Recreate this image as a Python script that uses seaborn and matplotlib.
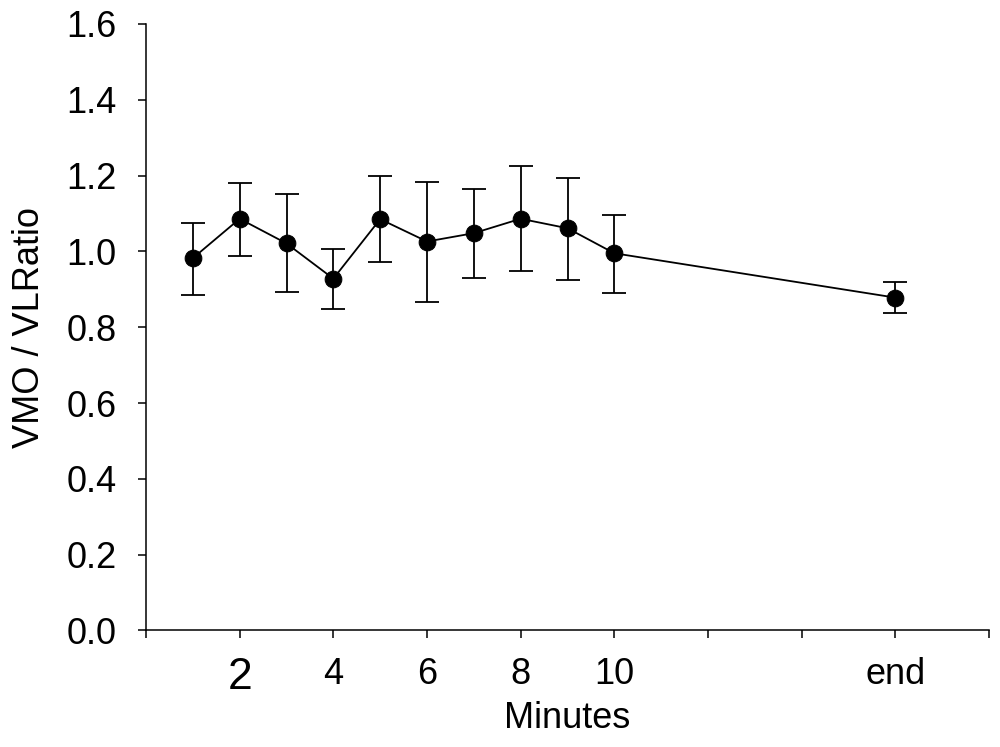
import numpy as np
import pandas as pd
import matplotlib
matplotlib.use("Agg")
import matplotlib.pyplot as plt
import seaborn as sns

# data
minute_pos = [1, 2, 3, 4, 5, 6, 7, 8, 9, 10, 16]   # "end" drawn at 16
ratio_mean = [0.982, 1.086, 1.021, 0.928, 1.085, 1.026, 1.048, 1.086, 1.061, 0.995, 0.878]
ratio_upper = [1.075, 1.181, 1.151, 1.005, 1.198, 1.182, 1.165, 1.224, 1.194, 1.096, 0.918]
ratio_lower = [0.886, 0.989, 0.892, 0.848, 0.971, 0.866, 0.930, 0.947, 0.924, 0.891, 0.837]

tick_pos = [0, 2, 4, 6, 8, 10, 12, 14, 16, 18]
tick_labels = ["", "2", "4", "6", "8", "10", "", "", "end", ""]

df = pd.DataFrame({"pos": minute_pos, "mean": ratio_mean,
                   "upper": ratio_upper, "lower": ratio_lower})

sns.set_style("ticks")
plt.rcParams["font.family"] = ["Liberation Sans", "DejaVu Sans"]
plt.rcParams["text.color"] = "black"
plt.rcParams["axes.labelcolor"] = "black"
plt.rcParams["xtick.color"] = "black"
plt.rcParams["ytick.color"] = "black"
plt.rcParams["axes.edgecolor"] = "black"

fig = plt.figure(figsize=(10, 7.47), dpi=100)
ax = fig.add_axes([0.146, 0.156, 0.843, 0.812])

# error bars
yerr = np.vstack([df["mean"] - df["lower"], df["upper"] - df["mean"]])
ax.errorbar(df["pos"], df["mean"], yerr=yerr, fmt="none", ecolor="black",
            elinewidth=1.3, capsize=8.5, capthick=1.3, zorder=2)

sns.lineplot(data=df, x="pos", y="mean", ax=ax, color="black", linewidth=1.3,
             marker="o", markersize=12, markeredgecolor="black",
             markerfacecolor="black", zorder=3)

ax.set_xlim(0, 18)
ax.set_ylim(0, 1.6)
ax.set_yticks(np.arange(0, 1.61, 0.2))
ax.set_yticklabels([f"{v:.1f}" for v in np.arange(0, 1.61, 0.2)])
ax.set_xticks(tick_pos)
ax.set_xticklabels(tick_labels)
for lab in ax.get_xticklabels():
    lab.set_fontsize(32 if lab.get_text() == "2" else 26)
    lab.set_color("black")

ax.tick_params(axis="y", labelsize=26, length=6, width=1.1, pad=15,
               direction="out", colors="black")
ax.tick_params(axis="x", length=6, width=1.1, pad=13, direction="out",
               colors="black")

ax.set_xlabel("Minutes", fontsize=26, labelpad=2, color="black")
ax.set_ylabel("VMO / VLRatio", fontsize=26, labelpad=14, color="black")

for s in ["top", "right"]:
    ax.spines[s].set_visible(False)
for s in ["left", "bottom"]:
    ax.spines[s].set_linewidth(1.1)
    ax.spines[s].set_color("black")

fig.savefig("out.png", dpi=100, facecolor="white")
